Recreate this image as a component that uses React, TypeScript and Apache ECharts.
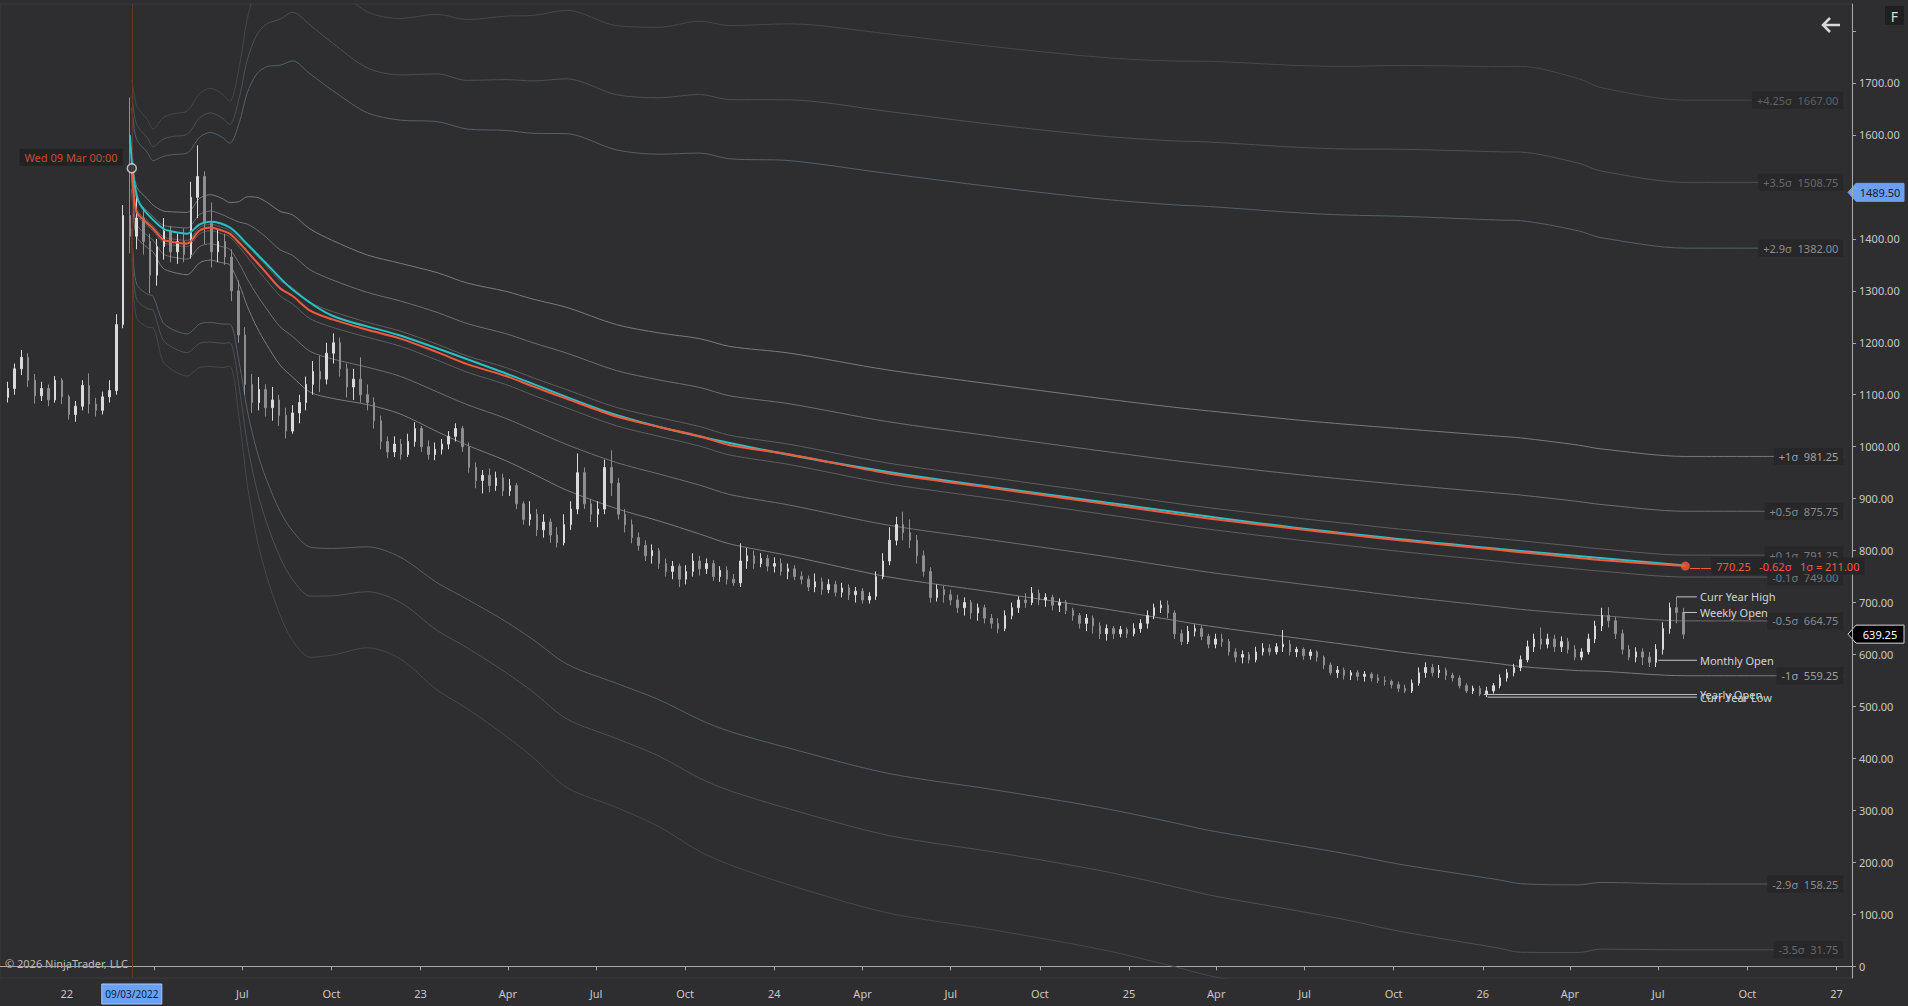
import React, { useEffect, useRef } from 'react';
import * as echarts from 'echarts';

const FONT = '"Segoe UI", "Noto Sans", sans-serif';
const BG = '#2e2e31';

// weekly bars, first one starts on this monday
const firstWeek = '2021-11-01';
// [open, close, low, high]
const weeklyBars = [
  [1095, 1112, 1085, 1125], [1112, 1150, 1100, 1160], [1150, 1172, 1138, 1186], [1172, 1128, 1115, 1180],
  [1128, 1098, 1083, 1140], [1098, 1112, 1088, 1125], [1112, 1090, 1078, 1120], [1090, 1128, 1085, 1136],
  [1128, 1096, 1082, 1132], [1096, 1062, 1052, 1100], [1062, 1078, 1048, 1088], [1078, 1118, 1070, 1128],
  [1118, 1082, 1064, 1141], [1082, 1070, 1058, 1094], [1070, 1096, 1062, 1106], [1096, 1108, 1085, 1128],
  [1108, 1235, 1100, 1255], [1235, 1445, 1228, 1465], [1445, 1405, 1372, 1672], [1405, 1440, 1380, 1490],
  [1440, 1395, 1370, 1460], [1395, 1330, 1295, 1410], [1330, 1385, 1310, 1400], [1385, 1415, 1360, 1440],
  [1415, 1375, 1355, 1425], [1375, 1395, 1352, 1410], [1395, 1370, 1355, 1420], [1370, 1480, 1362, 1510],
  [1480, 1520, 1440, 1580], [1520, 1430, 1390, 1530], [1430, 1375, 1345, 1470], [1375, 1395, 1355, 1420],
  [1395, 1365, 1350, 1410], [1365, 1300, 1280, 1380], [1300, 1215, 1200, 1320], [1215, 1120, 1100, 1230],
  [1120, 1085, 1065, 1140], [1085, 1110, 1070, 1134], [1110, 1075, 1058, 1120], [1075, 1090, 1050, 1115],
  [1090, 1060, 1040, 1100], [1060, 1030, 1016, 1075], [1030, 1065, 1025, 1080], [1065, 1085, 1045, 1100],
  [1085, 1120, 1070, 1135], [1120, 1145, 1100, 1165], [1145, 1130, 1105, 1175], [1130, 1180, 1120, 1200],
  [1180, 1200, 1160, 1218], [1200, 1150, 1135, 1210], [1150, 1115, 1095, 1160], [1115, 1130, 1090, 1150],
  [1130, 1100, 1085, 1172], [1100, 1085, 1070, 1120], [1085, 1050, 1035, 1095], [1050, 1010, 995, 1060],
  [1010, 990, 978, 1020], [990, 1005, 980, 1020], [1005, 985, 975, 1015], [985, 1010, 980, 1025],
  [1010, 1035, 1000, 1047], [1035, 1000, 990, 1040], [1000, 985, 975, 1012], [985, 995, 974, 1008],
  [995, 1005, 985, 1015], [1005, 1020, 995, 1030], [1020, 1035, 1010, 1045], [1035, 1000, 990, 1040],
  [1000, 960, 950, 1008], [960, 935, 920, 970], [935, 945, 910, 955], [945, 925, 912, 958],
  [925, 940, 915, 952], [940, 915, 905, 948], [915, 925, 905, 938], [925, 890, 880, 930],
  [890, 860, 850, 895], [860, 870, 848, 895], [870, 840, 828, 880], [840, 855, 825, 870],
  [855, 830, 815, 862], [830, 815, 806, 845], [815, 850, 810, 870], [850, 880, 840, 895],
  [880, 950, 870, 987], [950, 890, 880, 960], [890, 870, 855, 900], [870, 880, 845, 895],
  [880, 960, 870, 975], [960, 930, 905, 993], [930, 870, 860, 940], [870, 850, 835, 880],
  [850, 825, 814, 860], [825, 810, 800, 835], [810, 790, 780, 820], [790, 800, 775, 812],
  [800, 775, 765, 805], [775, 760, 750, 785], [760, 770, 745, 780], [770, 745, 730, 775],
  [745, 760, 735, 772], [760, 780, 750, 795], [780, 765, 752, 790], [765, 775, 755, 785],
  [775, 750, 742, 782], [750, 762, 740, 770], [762, 745, 735, 770], [745, 738, 732, 755],
  [738, 780, 730, 814], [780, 790, 765, 805], [790, 775, 765, 800], [775, 785, 768, 795],
  [785, 770, 760, 792], [770, 775, 758, 787], [775, 760, 752, 785], [760, 765, 745, 775],
  [765, 750, 743, 772], [750, 745, 735, 760], [745, 730, 722, 752], [730, 740, 720, 756],
  [740, 725, 715, 748], [725, 735, 718, 745], [735, 720, 712, 742], [720, 728, 710, 738],
  [728, 715, 705, 735], [715, 722, 700, 730], [722, 705, 698, 728], [705, 712, 698, 720],
  [712, 750, 705, 760], [750, 780, 745, 795], [780, 820, 772, 845], [820, 850, 810, 865],
  [850, 835, 820, 875], [835, 820, 805, 860], [820, 790, 775, 830], [790, 760, 750, 800],
  [760, 710, 700, 768], [710, 725, 702, 735], [725, 715, 700, 732], [715, 705, 695, 725],
  [705, 690, 680, 715], [690, 700, 675, 710], [700, 680, 668, 705], [680, 690, 665, 698],
  [690, 670, 660, 696], [670, 660, 650, 678], [660, 650, 641, 670], [650, 675, 645, 685],
  [675, 690, 668, 700], [690, 705, 680, 712], [705, 700, 690, 718], [700, 718, 695, 730],
  [718, 705, 695, 725], [705, 710, 692, 718], [710, 695, 685, 715], [695, 700, 682, 708],
  [700, 685, 678, 705], [685, 675, 665, 690], [675, 660, 650, 680], [660, 670, 645, 678],
  [670, 655, 640, 675], [655, 640, 630, 662], [640, 650, 627, 658], [650, 640, 630, 655],
  [640, 648, 633, 655], [648, 640, 632, 652], [640, 650, 635, 660], [650, 660, 642, 668],
  [660, 675, 650, 685], [675, 690, 668, 698], [690, 695, 680, 704], [695, 680, 670, 704],
  [680, 640, 630, 685], [640, 625, 618, 648], [625, 645, 620, 655], [645, 650, 635, 658],
  [650, 635, 628, 656], [635, 620, 612, 640], [620, 630, 612, 640], [630, 625, 615, 640],
  [625, 605, 598, 630], [605, 595, 585, 612], [595, 600, 583, 608], [600, 590, 583, 605],
  [590, 605, 585, 615], [605, 612, 598, 622], [612, 605, 598, 620], [605, 615, 600, 622],
  [615, 620, 605, 647], [620, 605, 598, 628], [605, 610, 595, 615], [610, 598, 590, 614],
  [598, 605, 590, 610], [605, 595, 586, 608], [595, 580, 572, 598], [580, 565, 560, 585],
  [565, 570, 555, 578], [570, 560, 552, 575], [560, 565, 551, 570], [565, 558, 550, 570],
  [558, 562, 548, 568], [562, 555, 548, 566], [555, 550, 545, 562], [550, 548, 540, 558],
  [548, 542, 535, 552], [542, 535, 528, 548], [535, 530, 526, 542], [530, 545, 526, 552],
  [545, 565, 540, 575], [565, 575, 555, 585], [575, 565, 558, 582], [565, 570, 555, 580],
  [570, 560, 551, 575], [560, 555, 548, 565], [555, 540, 535, 560], [540, 530, 526, 545],
  [530, 535, 524, 540], [535, 524, 520, 540], [524, 530, 518, 538], [530, 540, 525, 545],
  [540, 555, 535, 562], [555, 565, 548, 572], [565, 575, 558, 582], [575, 590, 568, 598],
  [590, 615, 585, 627], [615, 630, 605, 640], [630, 620, 610, 652], [620, 630, 612, 640],
  [630, 615, 605, 638], [615, 625, 605, 635], [625, 610, 602, 632], [610, 595, 589, 618],
  [595, 605, 589, 612], [605, 630, 600, 640], [630, 655, 622, 665], [655, 675, 645, 690],
  [675, 665, 652, 691], [665, 640, 630, 672], [640, 610, 600, 648], [610, 595, 589, 618],
  [595, 605, 585, 614], [605, 595, 580, 612], [595, 585, 576, 605], [585, 610, 576, 620],
  [610, 650, 600, 662], [650, 690, 640, 700], [690, 681, 660, 711], [681, 639.25, 630, 690],
];

// anchored VWAP and its standard deviation
const anchorDate = '2022-03-09';
const bandDates = [
  '2022-03-09', '2022-03-10', '2022-03-14', '2022-03-25', '2022-03-31', '2022-04-10', '2022-04-20',
  '2022-05-05', '2022-05-18', '2022-05-29', '2022-06-10', '2022-06-18', '2022-06-28', '2022-07-06',
  '2022-07-16', '2022-07-26', '2022-08-09', '2022-08-22', '2022-09-09', '2022-10-02', '2022-11-07',
  '2022-12-11', '2023-01-18', '2023-02-18', '2023-03-30', '2023-04-27', '2023-06-01', '2023-07-22',
  '2023-09-04', '2023-10-16', '2023-11-16', '2024-01-17', '2024-04-26', '2024-08-14', '2024-12-03',
  '2025-02-16', '2025-03-24', '2025-06-26', '2025-08-14', '2025-10-07', '2026-01-19', '2026-02-09',
  '2026-04-10', '2026-05-02', '2026-07-29',
];
const vwapValues = [
  1536, 1507, 1452, 1430, 1420, 1399, 1394,
  1391, 1416, 1422, 1416, 1410, 1392, 1376,
  1355, 1334, 1305, 1290, 1262, 1245, 1225,
  1208, 1182, 1159, 1136, 1116, 1092, 1058,
  1038, 1020, 1003, 985, 949, 920, 891,
  871, 862, 841, 831, 820, 801, 797,
  786, 782, 770.25,
];
const sigmaValues = [
  40, 44, 48, 47, 45, 55, 58,
  60, 62, 63, 62, 60, 80, 105,
  125, 137, 148, 156, 157, 152, 144,
  145, 153, 156, 163, 168, 176, 177,
  181, 188, 190, 195, 199, 200, 202,
  205, 207, 210, 212, 215, 219, 220,
  217, 214, 211,
];
const sigmaLevels = [4.25, 3.5, 2.9, 1, 0.5, 0.1, -0.1, -0.5, -1, -2.9, -3.5, -4.25];

// second (cyan) vwap
const altDates = [
  '2022-03-07', '2022-03-09', '2022-03-10', '2022-03-14', '2022-03-17', '2022-03-25', '2022-04-10',
  '2022-04-20', '2022-05-05', '2022-05-18', '2022-05-29', '2022-06-18', '2022-07-06', '2022-07-26',
  '2022-08-22', '2022-10-02', '2022-12-11', '2023-03-30', '2023-07-22', '2023-11-16', '2024-04-26',
  '2024-12-03', '2025-06-26', '2026-01-19', '2026-07-29',
];
const altValues = [
  1600, 1548, 1527, 1485, 1468, 1448, 1420,
  1414, 1410, 1428, 1433, 1422, 1390, 1352,
  1302, 1252, 1214, 1141, 1061, 1007, 952,
  894, 843, 803, 771.5,
];

// key levels drawn at the right
const levelNames = ['Curr Year High', 'Weekly Open', 'Monthly Open', 'Yearly Open', 'Curr Year Low'];
const levelValues = [711, 681, 589, 523, 518];
const levelStarts = ['2026-07-20', '2026-07-27', '2026-07-01', '2026-01-02', '2026-01-06'];
const levelEnd = '2026-08-10';

const quarterTicks = [
  '2022-01-01', '2022-04-01', '2022-07-01', '2022-10-01', '2023-01-01', '2023-04-01', '2023-07-01',
  '2023-10-01', '2024-01-01', '2024-04-01', '2024-07-01', '2024-10-01', '2025-01-01', '2025-04-01',
  '2025-07-01', '2025-10-01', '2026-01-01', '2026-04-01', '2026-07-01', '2026-10-01', '2027-01-01',
];
// the 2022 Apr label sits under the cursor date tag
const quarterLabels = quarterTicks.filter((d) => d !== '2022-04-01');
const priceTicks = [0, 100, 200, 300, 400, 500, 600, 700, 800, 900, 1000, 1100, 1200, 1300, 1400, 1500, 1600, 1700, 1800];
// 1500 sits under the cursor price tag
const priceLabels = [0, 100, 200, 300, 400, 500, 600, 700, 800, 900, 1000, 1100, 1200, 1300, 1400, 1600, 1700];
const cursorPrice = 1489.5;

const X_MIN = '2021-10-24';
const X_MAX = '2027-01-17';
const LABEL_DATE = '2027-01-08';
const Y_MIN = -22.5;
const Y_MAX = 1852;
const GRID = { left: 0, right: 56, top: 4, bottom: 28 };

const bandColors: Record<string, [string, string]> = {
  '4.25': ['#44484e', '#606165'],
  '3.5': ['#4a5057', '#68696c'],
  '2.9': ['#55606a', '#8e8e8e'],
  '1': ['#7a7a7a', '#a0a0a0'],
  '0.5': ['#6e6e6e', '#8a8a8a'],
  '0.1': ['#5e5e5e', '#7a7a7a'],
};

const t = (d: string) => Date.parse(d);
const floorQ = (v: number) => Math.floor(v * 4 + 1e-6) / 4;
const monthName = ['', '', '', 'Apr', '', '', 'Jul', '', '', 'Oct', '', ''];

const App = () => {
  const chartRef = useRef<HTMLDivElement>(null);

  useEffect(() => {
    document.body.style.margin = '0';
    document.body.style.background = BG;
    const chart = echarts.init(chartRef.current, null, { renderer: 'svg' });

    const weekMs = 7 * 24 * 3600 * 1000;
    const candles = weeklyBars.map((b, i) => [t(firstWeek) + i * weekMs, ...b]);
    const lastClose = weeklyBars[weeklyBars.length - 1][1];
    const n = bandDates.length;
    const lastVwap = vwapValues[n - 1];
    const lastSigma = sigmaValues[n - 1];

    const bandSeries = sigmaLevels.map((k) => {
      const pts = bandDates.map((d, i) => [t(d), vwapValues[i] + k * sigmaValues[i]]);
      const last = pts[pts.length - 1][1];
      const [lineColor, textColor] = bandColors[String(Math.abs(k))];
      return {
        type: 'line',
        name: `${k}σ`,
        data: [...pts, [t(LABEL_DATE), last]],
        symbol: 'none',
        silent: true,
        smooth: 0.3,
        z: 2,
        lineStyle: { color: lineColor, width: 1 },
        endLabel: {
          show: last > Y_MIN,
          formatter: `${k > 0 ? '+' : ''}${k}σ  ${floorQ(last).toFixed(2)}`,
          align: 'right',
          distance: 0,
          color: textColor,
          backgroundColor: '#272729',
          padding: [3, 5],
          fontSize: 11,
          fontFamily: FONT,
        },
      };
    });

    const levelSeries = levelNames.map((name, i) => ({
      type: 'line',
      name,
      data: [[t(levelStarts[i]), levelValues[i]], [t(levelEnd), levelValues[i]]],
      symbol: 'none',
      silent: true,
      z: 6,
      lineStyle: { color: '#c4c4c4', width: 1 },
      endLabel: { show: true, formatter: name, distance: 3, color: '#d4d4d4', fontSize: 11, fontFamily: FONT },
    }));

    const z = (lastClose - lastVwap) / lastSigma;

    const option = {
      animation: false,
      backgroundColor: BG,
      textStyle: { fontFamily: FONT },
      grid: { ...GRID, show: true, borderColor: '#3a3a3e', borderWidth: 1 },
      xAxis: {
        type: 'value',
        min: t(X_MIN),
        max: t(X_MAX),
        axisLine: { show: true, lineStyle: { color: '#a8a8a8', width: 1 } },
        axisTick: { show: true, length: 4, lineStyle: { color: '#a8a8a8' }, customValues: quarterTicks.map(t) },
        axisLabel: {
          customValues: quarterLabels.map(t),
          formatter: (v: number) => {
            const d = new Date(v);
            const m = d.getUTCMonth();
            return m === 0 ? String(d.getUTCFullYear()).slice(2) : monthName[m];
          },
          color: '#c8c8c8',
          fontSize: 11,
          margin: 10,
          fontFamily: FONT,
        },
        splitLine: { show: false },
      },
      yAxis: {
        type: 'value',
        position: 'right',
        min: Y_MIN,
        max: Y_MAX,
        axisLine: { show: true, lineStyle: { color: '#a8a8a8', width: 1 } },
        axisTick: { show: true, length: 4, lineStyle: { color: '#a8a8a8' }, customValues: priceTicks },
        axisLabel: {
          customValues: priceLabels,
          formatter: (v: number) => (v === 0 ? '0' : v.toFixed(2)),
          color: '#c8c8c8',
          fontSize: 11,
          margin: 7,
          fontFamily: FONT,
        },
        splitLine: { show: false },
      },
      series: [
        ...bandSeries,
        {
          type: 'candlestick',
          data: candles,
          encode: { x: 0, y: [1, 2, 3, 4] },
          barWidth: 2,
          z: 4,
          silent: true,
          itemStyle: {
            color: '#dadada',
            color0: '#8e8e8e',
            borderColor: '#dadada',
            borderColor0: '#8e8e8e',
            borderWidth: 1,
          },
        },
        {
          type: 'line',
          name: 'vwap2',
          data: altDates.map((d, i) => [t(d), altValues[i]]),
          symbol: 'none',
          smooth: 0.3,
          silent: true,
          z: 5,
          lineStyle: { color: '#26c2c6', width: 2 },
        },
        {
          type: 'line',
          name: 'vwap',
          data: bandDates.map((d, i) => [t(d), vwapValues[i]]),
          symbol: 'none',
          smooth: 0.3,
          silent: true,
          z: 7,
          lineStyle: { color: '#f25a3c', width: 2 },
          endLabel: {
            show: true,
            distance: 4,
            formatter: `{d|——}{b|${lastVwap.toFixed(2)}   ${z.toFixed(2)}σ   1σ = ${lastSigma.toFixed(2)}}`,
            rich: {
              d: { color: '#f25a3c', fontSize: 11, fontFamily: FONT },
              b: { color: '#f25a3c', fontSize: 11, fontFamily: FONT, backgroundColor: '#262628', padding: [3, 5] },
            },
          },
        },
        {
          type: 'scatter',
          data: [[t(bandDates[n - 1]), lastVwap]],
          symbolSize: 9,
          z: 8,
          silent: true,
          itemStyle: { color: '#f25a3c' },
        },
        ...levelSeries,
        {
          type: 'scatter',
          data: [[t(anchorDate), vwapValues[0]]],
          symbolSize: 9,
          z: 9,
          silent: true,
          itemStyle: { color: BG, borderColor: '#e6e6e6', borderWidth: 1.5 },
          label: {
            show: true,
            position: 'left',
            distance: 4,
            offset: [0, -11],
            formatter: 'Wed 09 Mar 00:00',
            color: '#ee5a3e',
            backgroundColor: '#1f1f21',
            padding: [3, 5],
            fontSize: 11,
            fontFamily: FONT,
          },
          markLine: {
            silent: true,
            symbol: ['none', 'none'],
            label: { show: false },
            lineStyle: { color: '#5e3a32', width: 1, type: 'solid' },
            data: [{ xAxis: t(anchorDate) }],
          },
        },
      ],
    };

    chart.setOption(option);

    // axis tags and chrome
    const W = chart.getWidth();
    const H = chart.getHeight();
    const axisX = W - GRID.right;
    const priceTag = (value: number, text: string, fill: string, stroke: string, color: string) => {
      const y = chart.convertToPixel({ yAxisIndex: 0 }, value) as number;
      return {
        type: 'group',
        z: 100,
        children: [
          {
            type: 'polygon',
            shape: { points: [[axisX - 4, y], [axisX + 4, y - 9], [W - 4, y - 9], [W - 4, y + 9], [axisX + 4, y + 9]] },
            style: { fill, stroke, lineWidth: 1 },
          },
          {
            type: 'text',
            x: (axisX + 4 + W - 4) / 2,
            y,
            style: { text, fill: color, font: `11px ${FONT}`, align: 'center', verticalAlign: 'middle' },
          },
        ],
      };
    };
    const ax = chart.convertToPixel({ xAxisIndex: 0 }, t(anchorDate)) as number;
    const axisY = H - GRID.bottom;

    chart.setOption({
      graphic: [
        priceTag(cursorPrice, cursorPrice.toFixed(2), '#6aa1f6', '#6aa1f6', '#14203a'),
        priceTag(lastClose, lastClose.toFixed(2), '#000000', '#d8d8d8', '#ffffff'),
        {
          type: 'group',
          z: 100,
          children: [
            { type: 'rect', shape: { x: ax - 30, y: axisY + 6, width: 60, height: 20 }, style: { fill: '#6aa1f6', stroke: '#a9c8f7' } },
            {
              type: 'text',
              x: ax,
              y: axisY + 16,
              style: { text: '09/03/2022', fill: '#14203a', font: `10px ${FONT}`, align: 'center', verticalAlign: 'middle' },
            },
          ],
        },
        {
          type: 'text',
          left: 5,
          top: axisY - 20,
          style: { text: '© 2026 NinjaTrader, LLC', fill: '#bdbdbd', font: `11px ${FONT}` },
        },
        {
          type: 'group',
          z: 100,
          children: [
            { type: 'line', shape: { x1: 1823, y1: 25, x2: 1840, y2: 25 }, style: { stroke: '#d8d8d8', lineWidth: 2.5 } },
            { type: 'polyline', shape: { points: [[1830, 18], [1823, 25], [1830, 32]] }, style: { stroke: '#d8d8d8', lineWidth: 2.5, fill: null } },
          ],
        },
        { type: 'rect', shape: { x: 1885, y: 6, width: 19, height: 19 }, style: { fill: '#1f1f21' } },
        {
          type: 'text',
          x: 1894.5,
          y: 16,
          style: { text: 'F', fill: '#dcdcdc', font: `14px ${FONT}`, align: 'center', verticalAlign: 'middle' },
        },
      ],
    });

    return () => {
      chart.dispose();
    };
  }, []);

  return <div ref={chartRef} style={{ width: '1908px', height: '1006px' }} />;
};

export default App;
